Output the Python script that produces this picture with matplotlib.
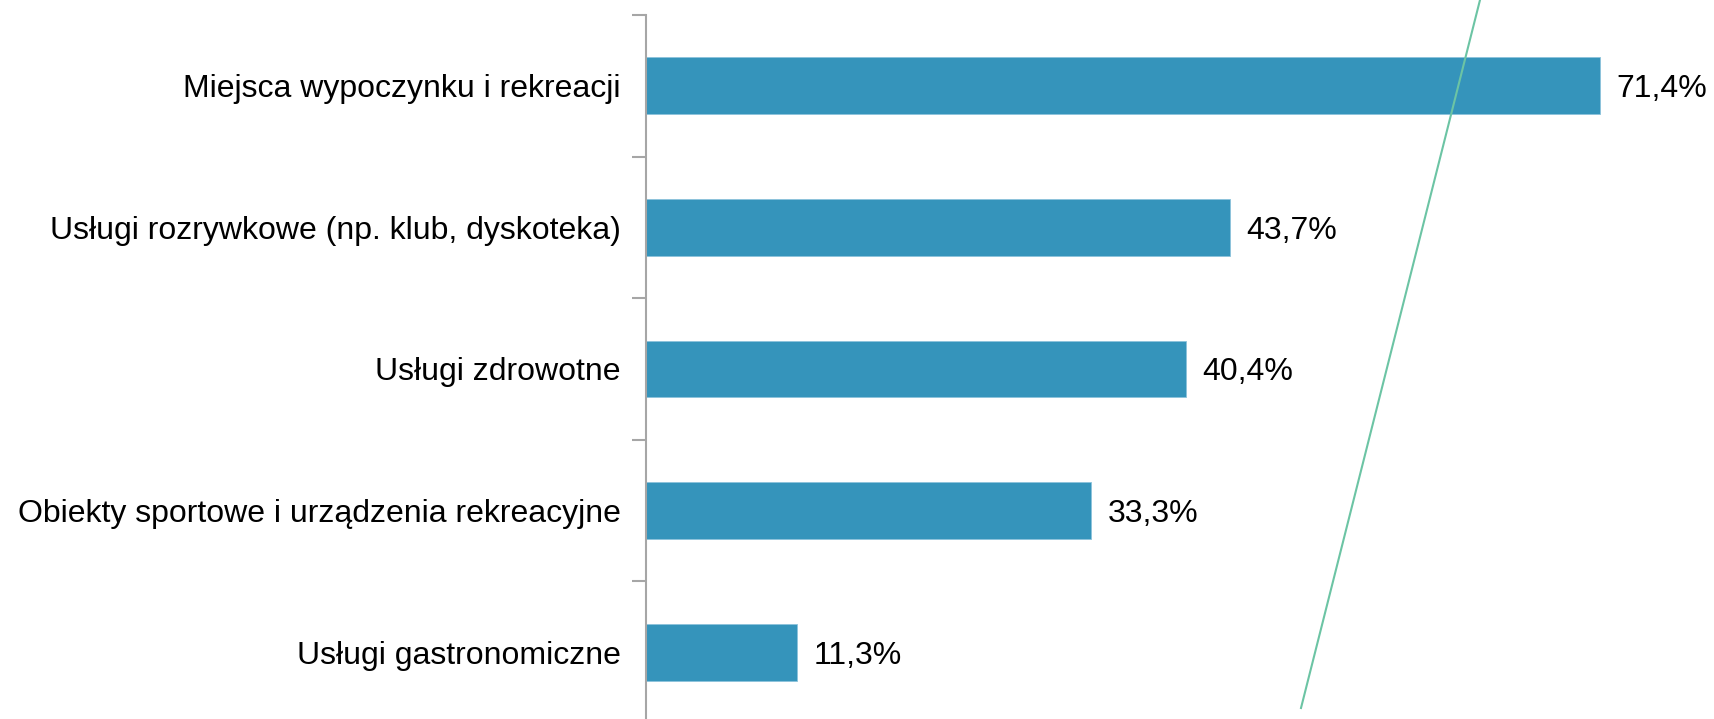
import matplotlib
matplotlib.use("Agg")
import matplotlib.pyplot as plt
from matplotlib.lines import Line2D
import numpy as np

categories = [
    "Miejsca wypoczynku i rekreacji",
    "Usługi rozrywkowe (np. klub, dyskoteka)",
    "Usługi zdrowotne",
    "Obiekty sportowe i urządzenia rekreacyjne",
    "Usługi gastronomiczne",
]
values = [71.4, 43.7, 40.4, 33.3, 11.3]

plt.rcParams["font.family"] = ["Liberation Sans", "DejaVu Sans"]

W, H = 1715, 719
fig = plt.figure(figsize=(W / 100, H / 100), dpi=100)
left, top, bottom = 646, 15, 723
ax = fig.add_axes([left / W, 1 - bottom / H, 1 - left / W, (bottom - top) / H])

y = np.arange(len(categories))
ax.barh(y, values, height=0.4, color="#3594bb", edgecolor="#8cc3db", linewidth=0.6)

for yi, v in zip(y, values):
    ax.text(v + 1.25, yi, f"{v:.1f}%".replace(".", ","), va="center_baseline", ha="left",
            fontsize=23, color="black")

ax.set_xlim(0, 80)
ax.set_ylim(len(categories) - 0.5, -0.5)
ax.set_yticks(y)
ax.set_yticklabels(categories, fontsize=23, va="center_baseline")
ax.tick_params(axis="y", which="major", length=0, pad=18)
ax.set_yticks(np.arange(-0.5, len(categories), 1), minor=True)
ax.tick_params(axis="y", which="minor", length=10, width=1.5, color="#a6a6a6")
ax.set_xticks([])
for s in ("top", "right", "bottom"):
    ax.spines[s].set_visible(False)
ax.spines["left"].set_color("#a6a6a6")
ax.spines["left"].set_linewidth(1.5)

# thin green slanted line across the plot
fig.add_artist(Line2D([1480 / W, 1301 / W], [1.0, 1 - 708 / H],
                      transform=fig.transFigure, color="#6cc4a4", linewidth=1.5))

fig.savefig("out.png", dpi=100)
